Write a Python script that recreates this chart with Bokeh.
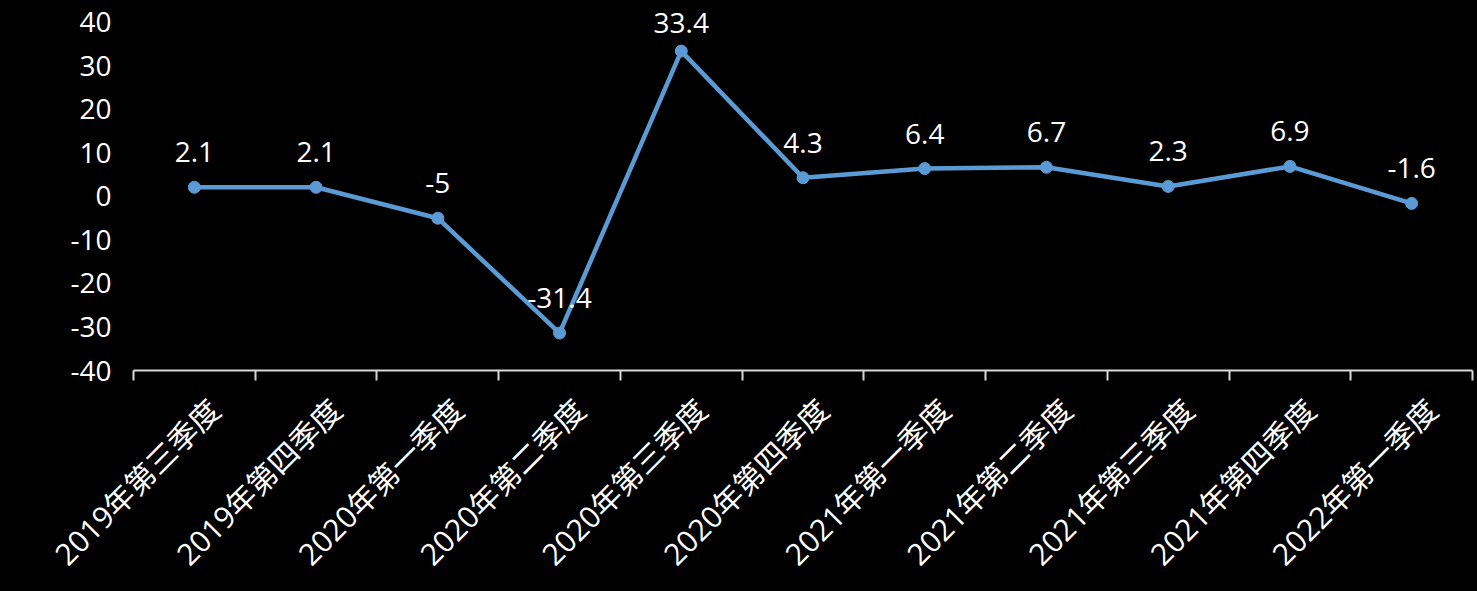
import math
from bokeh.plotting import figure
from bokeh.models import Range1d, FixedTicker, ColumnDataSource, LabelSet
from bokeh.core.properties import value
from bokeh.embed import file_html
from bokeh.resources import INLINE

categories = ["2019年第三季度", "2019年第四季度", "2020年第一季度", "2020年第二季度",
              "2020年第三季度", "2020年第四季度", "2021年第一季度", "2021年第二季度",
              "2021年第三季度", "2021年第四季度", "2022年第一季度"]
values = [2.1, 2.1, -5, -31.4, 33.4, 4.3, 6.4, 6.7, 2.3, 6.9, -1.6]
y_ticks = [-40, -30, -20, -10, 0, 10, 20, 30, 40]

FONT = "Open Sans, Noto Sans CJK SC"
LINE_COLOR = "#5b9bd5"
Y_MIN, Y_MAX = -40, 40

# layout (pixels)
W, H = 1477, 591
LEFT, RIGHT = 133, 5
TOP_TICK_PX = 22          # pixel row of the top y tick
BOTTOM = 219
frame_h = H - BOTTOM      # frame starts at top of figure
px_per_unit = (frame_h - TOP_TICK_PX) / (Y_MAX - Y_MIN)
y_end = Y_MIN + frame_h / px_per_unit

n = len(categories)
centers = [i + 0.5 for i in range(n)]
bounds = [float(i) for i in range(n + 1)]
label_shift = 0.165
label_ticks = [c + label_shift for c in centers]

# value labels sit 25px above the point, but are kept inside the chart top
offsets = [min(25.0, (y_end - v) * px_per_unit - 33) for v in values]
src = ColumnDataSource(dict(x=centers, y=values, lab=[f"{v:g}" for v in values], off=offsets))

p = figure(width=W, height=H, output_backend="svg", toolbar_location=None,
           x_range=Range1d(0, n), y_range=Range1d(Y_MIN, y_end),
           background_fill_color=None, border_fill_color="black",
           min_border_left=LEFT, min_border_right=RIGHT, min_border_top=0,
           min_border_bottom=BOTTOM)
p.styles = {"background-color": "black"}
p.outline_line_color = None
p.grid.visible = False

p.line("x", "y", source=src, line_color=LINE_COLOR, line_width=4.5)
p.scatter("x", "y", source=src, size=12, fill_color=LINE_COLOR, line_color=LINE_COLOR)
p.add_layout(LabelSet(x="x", y="y", text="lab", source=src, text_color="white",
                      text_align="center", text_baseline="alphabetic", y_offset="off",
                      text_font=value(FONT), text_font_size="28px"))

# y axis
p.yaxis.ticker = FixedTicker(ticks=y_ticks)
p.yaxis.major_label_overrides = {t: str(t) for t in y_ticks}
p.yaxis.axis_line_color = None
p.yaxis.major_tick_line_color = None
p.yaxis.minor_tick_line_color = None
p.yaxis.major_label_text_color = "white"
p.yaxis.major_label_text_font = FONT
p.yaxis.major_label_text_font_size = "28px"
p.yaxis.major_label_standoff = 16

# x axis: category labels at centres, boundary ticks as minor ticks
p.xaxis.ticker = FixedTicker(ticks=label_ticks, minor_ticks=bounds)
p.xaxis.major_label_overrides = {t: lab for t, lab in zip(label_ticks, categories)}
p.xaxis.axis_line_color = "#d9d9d9"
p.xaxis.axis_line_width = 2
p.xaxis.major_tick_line_color = None
p.xaxis.major_tick_in = 0
p.xaxis.major_tick_out = 0
p.xaxis.minor_tick_line_color = "#d9d9d9"
p.xaxis.minor_tick_line_width = 2
p.xaxis.minor_tick_in = 0
p.xaxis.minor_tick_out = 10
p.xaxis.major_label_orientation = math.pi / 4
p.xaxis.major_label_text_color = "white"
p.xaxis.major_label_text_font = FONT
p.xaxis.major_label_text_font_size = "30px"
p.xaxis.major_label_standoff = 24

open("out.html", "w").write(file_html(p, INLINE))
